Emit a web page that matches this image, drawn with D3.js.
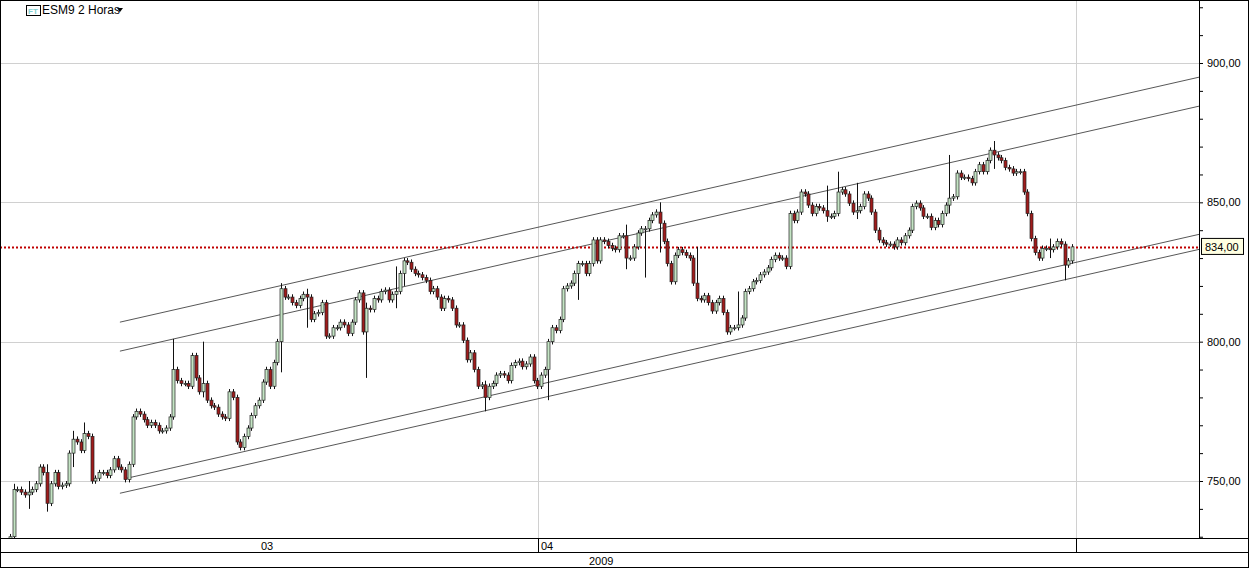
<!DOCTYPE html>
<html>
<head>
<meta charset="utf-8">
<script src="https://cdn.jsdelivr.net/npm/d3@7"></script>
<style>
  body { margin: 0; background: #fff; }
  text { font-family: "Liberation Sans", Arial, sans-serif; }
</style>
</head>
<body>
<div id="chart"></div>
<script>
// Closing prices, one per 2-hour bar (ESM9)
const closes = [
  730,747,747,746,745,746,747,749,755,753, 742,749,753,748,748.5,749,760,765,764,761,
  767,766,750,751,753,753,752,754,758,755, 754,750.5,756,773,775,774,772,770,771,770,
  768,768,769,773,790,786,785,785,784,795, 787,782,785,779,777,776.5,774,773,772.5,782,
  780,764,762,766,769,773.5,777,779,785.5,790, 784,792.5,800,819,
  816,816,814,813,815.5,817,816,808,810,810.5, 814,802,802,805,805,807,806,803,807,815,
  817.5,803.5,812,811.5,815.5,815,818,818.5,815,817, 818,824.5,829,828.5,826,824.5,824,823,822,818,
  819,816,812,815.5,815,812,806,806,800.5,793.5, 796,790,784,784.5,780,784,785,788,788.5,788,
  786,791.5,792.5,793,791,792,794.5,786,784,788,790,
  800,805,804,808,819,820,821,824.5,828,828, 824.5,828,836.5,829,836.5,836,834.5,833.5,833,838,
  838,830,830,834,839,840.5,840.5,843.5,845.5,846.5, 842.5,836,828,821.5,831,833,832,831,830,821,
  815.5,815,816.5,814,811,814,815.5,810.5,803.5,805, 805,806,808.5,818,819,821.5,822,824,825,826.5,
  829.5,831,830,830,827,846,843.5,846.5,
  853.7,853,849,846,848.5,848,847,845,845,846, 853.7,854.5,853,849.7,846.5,847,848.5,853,851.5,846.5,
  840,836.5,835.5,835,835,834,836.5,835.5,838,840, 848.5,849.7,848,845,845,841,843.5,842,846,849,
  851.5,852,860.5,859,859,858.5,857,861,863.5,861, 865,868.7,867,866,865,862.5,862,860.5,861,861,
  853.7,846,837,832,830,833.5,833.5,833,834,836, 835,827.5,829,834
];
// Bars with long wicks: [index, high, low]
const spikes = [
  [1,749,736],[5,750,740],[10,756,739],[17,768,755],[20,771,760],[44,801,772],[52,800,780],
  [73,821,789],[80,819,805],[96,814,787],[104,827,812],[106,830,820],[128,786,775],[145,788,779],
  [153,826,815],[166,842,826],[171,839,823],[175,850,832],[185,834,818],[196,818,804],
  [220,856,843],[223,861,849],[228,857,844],[253,867,846],[265,872,862],[280,837,830],[284,834,822]
];
// Drawn channel lines: [startIndex, startPrice, endIndex, endPrice]
const trendLines = [
  [29.6,807,320.5,895],[29.6,796.6,320.5,884.6],[31.5,751,320.5,838.6],[29.6,745.6,320.5,833.2]
];
const yTicks = [750,800,850,900];
const lastPrice = 834;
const monthLabels = [{ x: 261, text: "03" }, { x: 541, text: "04" }];

const W = 1249, H = 568;
const plotW = 1199, plotH = 538;

const svg = d3.select("#chart").append("svg").attr("width", W).attr("height", H);

const xScale = d3.scaleLinear().domain([0, closes.length - 1]).range([10, 1072]);
const yScale = d3.scaleLinear().domain([750, 900]).range([481, 63]);

const data = closes.map((c, i) => {
  const o = i === 0 ? 727 : closes[i - 1];
  return { i, o, c, h: Math.max(o, c) + 1, l: Math.min(o, c) - 1 };
});
spikes.forEach(([i, h, l]) => { data[i].h = Math.max(data[i].h, h); data[i].l = Math.min(data[i].l, l); });

const plot = svg.append("g");
plot.append("clipPath").attr("id", "clip").append("rect").attr("width", plotW).attr("height", plotH);
const inner = plot.append("g").attr("clip-path", "url(#clip)");

// grid
inner.selectAll(".hgrid").data(yTicks).join("line")
  .attr("x1", 0).attr("x2", plotW)
  .attr("y1", d => Math.round(yScale(d)) + 0.5).attr("y2", d => Math.round(yScale(d)) + 0.5)
  .attr("stroke", "#d0d0d0");
[538, 1076].forEach(x => inner.append("line")
  .attr("x1", x + 0.5).attr("x2", x + 0.5).attr("y1", 0).attr("y2", plotH).attr("stroke", "#d0d0d0"));

// channel lines
inner.selectAll(".trend").data(trendLines).join("line")
  .attr("x1", d => xScale(d[0])).attr("y1", d => yScale(d[1]))
  .attr("x2", d => xScale(d[2])).attr("y2", d => yScale(d[3]))
  .attr("stroke", "#444").attr("stroke-width", 0.9);

// last price line
inner.append("line")
  .attr("x1", 0).attr("x2", plotW)
  .attr("y1", Math.round(yScale(lastPrice)) + 0.5).attr("y2", Math.round(yScale(lastPrice)) + 0.5)
  .attr("stroke", "#c00000").attr("stroke-width", 2).attr("stroke-dasharray", "2,2");

// candles
const candle = inner.selectAll(".candle").data(data).join("g");
candle.append("line")
  .attr("x1", d => Math.round(xScale(d.i)) + 0.5).attr("x2", d => Math.round(xScale(d.i)) + 0.5)
  .attr("y1", d => yScale(d.h)).attr("y2", d => yScale(d.l))
  .attr("stroke", "#111");
candle.append("rect")
  .attr("x", d => Math.round(xScale(d.i)) - 1)
  .attr("y", d => yScale(Math.max(d.o, d.c)))
  .attr("width", 3)
  .attr("height", d => Math.max(1, Math.abs(yScale(d.o) - yScale(d.c))))
  .attr("fill", d => d.c >= d.o ? "#c4e4c4" : "#a01c1c")
  .attr("stroke", "#222").attr("stroke-width", 0.7);

// frame
svg.append("rect").attr("x", 0.5).attr("y", 0.5).attr("width", W - 1).attr("height", H - 1)
  .attr("fill", "none").attr("stroke", "#000");
svg.append("line").attr("x1", plotW + 0.5).attr("x2", plotW + 0.5).attr("y1", 0).attr("y2", plotH)
  .attr("stroke", "#000");
[plotH, 552].forEach(y => svg.append("line").attr("x1", 0).attr("x2", W).attr("y1", y + 0.5).attr("y2", y + 0.5)
  .attr("stroke", "#000"));
[538, 1076].forEach(x => svg.append("line").attr("x1", x + 0.5).attr("x2", x + 0.5)
  .attr("y1", plotH).attr("y2", 552).attr("stroke", "#000"));

// right axis
const axis = svg.append("g").attr("transform", `translate(${plotW},0)`)
  .call(d3.axisRight(yScale).tickValues(d3.range(730, 921, 10)).tickSize(4).tickFormat(""));
axis.select(".domain").remove();
axis.selectAll(".tick line").attr("stroke", "#000");
svg.selectAll(".ylab").data(yTicks).join("text")
  .attr("x", 1207).attr("y", d => yScale(d) + 4)
  .attr("font-size", 11).attr("fill", "#000")
  .text(d => d3.format(".2f")(d).replace(".", ","));

// last price tag
const ly = yScale(lastPrice);
svg.append("rect").attr("x", 1201.5).attr("y", ly - 8.5).attr("width", 42).attr("height", 16)
  .attr("fill", "#ffffe1").attr("stroke", "#000");
svg.append("text").attr("x", 1205).attr("y", ly + 4).attr("font-size", 11)
  .text(d3.format(".2f")(lastPrice).replace(".", ","));

// time axis labels
svg.selectAll(".mlab").data(monthLabels).join("text")
  .attr("x", d => d.x).attr("y", 550).attr("font-size", 11).text(d => d.text);
svg.append("text").attr("x", 589).attr("y", 565).attr("font-size", 11).text("2009");

// title
svg.append("rect").attr("x", 26.5).attr("y", 5.5).attr("width", 14).attr("height", 10)
  .attr("fill", "#fff").attr("stroke", "#000");
svg.append("text").attr("x", 28).attr("y", 14).attr("font-size", 8).attr("font-weight", "bold")
  .attr("fill", "#7fd0d0").text("FT");
svg.append("text").attr("x", 42).attr("y", 14).attr("font-size", 12).text("ESM9 2 Horas");
svg.append("path").attr("d", "M117,8 L123,8 L120,12 Z").attr("fill", "#000");
</script>
</body>
</html>
